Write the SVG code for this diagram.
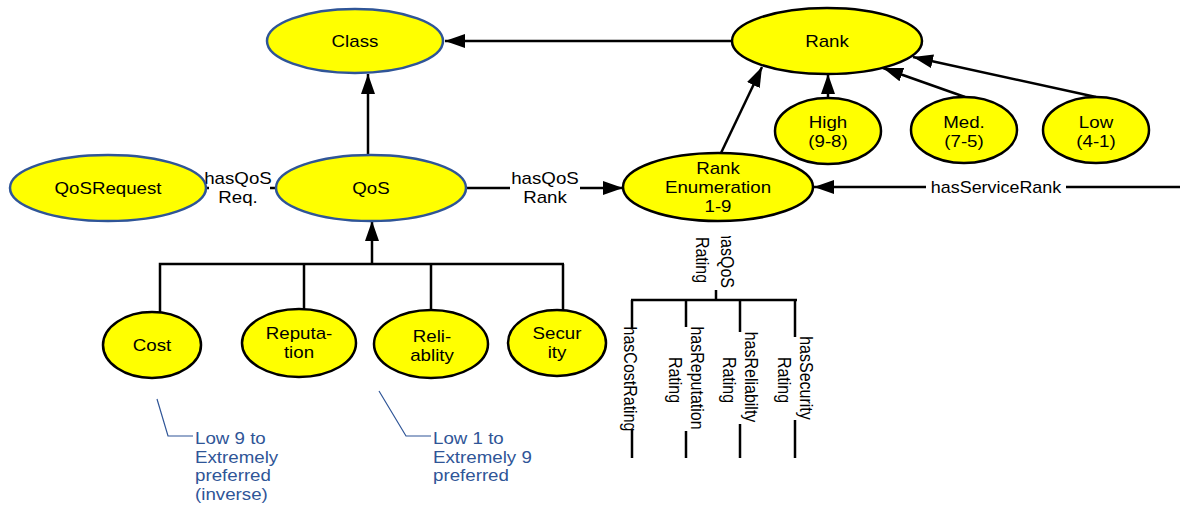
<svg xmlns="http://www.w3.org/2000/svg" width="1192" height="506" viewBox="0 0 1192 506">
<defs>
<style>
.t{font-family:"Liberation Sans",Arial,sans-serif;font-size:16px;fill:#000;text-anchor:middle}
.a{font-family:"Liberation Sans",Arial,sans-serif;font-size:16px;fill:#2F5597}
.nb{fill:#FFFF00;stroke:#2F5597;stroke-width:2.5}
.nk{fill:#FFFF00;stroke:#000;stroke-width:2.5}
.e{stroke:#000;stroke-width:2.5;fill:none}
.ea{stroke:#000;stroke-width:2.5;fill:none;marker-end:url(#arr)}
.an{stroke:#2F5597;stroke-width:1.2;fill:none}
</style>
<marker id="arr" markerUnits="userSpaceOnUse" markerWidth="20" markerHeight="14" refX="20" refY="7" orient="auto">
<path d="M0,0 L20,7 L0,14 z" fill="#000"/>
</marker>
<clipPath id="clipTop"><rect x="600" y="236" width="200" height="80"/></clipPath>
</defs>

<g id="connectors">
<line class="ea" x1="732" y1="41" x2="445" y2="41"/>
<line class="ea" x1="368" y1="155" x2="368" y2="74"/>
<line class="e" x1="206" y1="188" x2="209" y2="188"/>
<line class="e" x1="270" y1="188" x2="276" y2="188"/>
<line class="e" x1="467" y1="188" x2="510" y2="188"/>
<line class="ea" x1="580" y1="188" x2="623" y2="188"/>
<line class="ea" x1="721" y1="153" x2="762" y2="67"/>
<line class="ea" x1="828" y1="98" x2="828" y2="74"/>
<line class="ea" x1="965" y1="97" x2="883" y2="68"/>
<line class="ea" x1="1096" y1="97" x2="913" y2="57"/>
<line class="ea" x1="926" y1="187" x2="814" y2="187"/>
<line class="e" x1="1066" y1="187" x2="1180" y2="187"/>
<line class="ea" x1="372" y1="264" x2="372" y2="221"/>
<polyline class="e" points="160,312 160,264 564,264"/>
<line class="e" x1="304" y1="264" x2="304" y2="309"/>
<line class="e" x1="431" y1="264" x2="431" y2="310"/>
<line class="e" x1="563" y1="264" x2="563" y2="310"/>
<line class="e" x1="716" y1="290" x2="716" y2="300"/>
<line class="e" x1="631" y1="300" x2="797" y2="300"/>
<line class="e" x1="632" y1="300" x2="632" y2="328"/>
<line class="e" x1="632" y1="430" x2="632" y2="458"/>
<line class="e" x1="686" y1="300" x2="686" y2="327"/>
<line class="e" x1="686" y1="431" x2="686" y2="458"/>
<line class="e" x1="740" y1="300" x2="740" y2="332"/>
<line class="e" x1="740" y1="424" x2="740" y2="458"/>
<line class="e" x1="795" y1="300" x2="795" y2="337"/>
<line class="e" x1="795" y1="420" x2="795" y2="458"/>
<text class="t" transform="translate(238,184) scale(1.17,1)">hasQoS<tspan x="0" dy="19">Req.</tspan></text>
<text class="t" transform="translate(545,184) scale(1.17,1)">hasQoS<tspan x="0" dy="19">Rank</tspan></text>
<text class="t" transform="translate(996,193) scale(1.12,1)">hasServiceRank</text>
<g clip-path="url(#clipTop)">
<text class="t" style="text-anchor:end" transform="translate(721,288) rotate(90) scale(1,1.17)">hasQoS</text>
<text class="t" transform="translate(696,260) rotate(90) scale(1,1.17)">Rating</text>
</g>
<text class="t" transform="translate(624,379) rotate(90) scale(1,1.17)">hasCostRating</text>
<text class="t" transform="translate(691,378) rotate(90) scale(1,1.17)">hasReputation</text>
<text class="t" transform="translate(669,380) rotate(90) scale(1,1.17)">Rating</text>
<text class="t" transform="translate(745,377) rotate(90) scale(1,1.17)">hasReliabilty</text>
<text class="t" transform="translate(723,380) rotate(90) scale(1,1.17)">Rating</text>
<text class="t" transform="translate(800,378) rotate(90) scale(1,1.17)">hasSecurity</text>
<text class="t" transform="translate(778,380) rotate(90) scale(1,1.17)">Rating</text>
</g>

<g id="node-class">
<ellipse class="nb" cx="355" cy="41" rx="88" ry="32"/>
<text class="t" transform="translate(355,47) scale(1.17,1)">Class</text>
</g>
<g id="node-rank">
<ellipse class="nk" cx="827" cy="41" rx="95" ry="33"/>
<text class="t" transform="translate(827,47) scale(1.17,1)">Rank</text>
</g>
<g id="node-qosrequest">
<ellipse class="nb" cx="108" cy="188" rx="98" ry="33"/>
<text class="t" transform="translate(108,194) scale(1.17,1)">QoSRequest</text>
</g>
<g id="node-qos">
<ellipse class="nb" cx="371" cy="188" rx="95" ry="33"/>
<text class="t" transform="translate(371,194) scale(1.17,1)">QoS</text>
</g>
<g id="node-rankenum">
<ellipse class="nk" cx="718" cy="187" rx="95" ry="34"/>
<text class="t" transform="translate(718,174) scale(1.17,1)">Rank<tspan x="0" dy="19">Enumeration</tspan><tspan x="0" dy="19">1-9</tspan></text>
</g>
<g id="node-high">
<ellipse class="nk" cx="828" cy="131" rx="53" ry="33"/>
<text class="t" transform="translate(828,128) scale(1.17,1)">High<tspan x="0" dy="19">(9-8)</tspan></text>
</g>
<g id="node-med">
<ellipse class="nk" cx="964" cy="130" rx="53" ry="33"/>
<text class="t" transform="translate(964,128) scale(1.17,1)">Med.<tspan x="0" dy="19">(7-5)</tspan></text>
</g>
<g id="node-low">
<ellipse class="nk" cx="1096" cy="130" rx="53" ry="33"/>
<text class="t" transform="translate(1096,128) scale(1.17,1)">Low<tspan x="0" dy="19">(4-1)</tspan></text>
</g>
<g id="node-cost">
<ellipse class="nk" cx="152" cy="345" rx="49" ry="33"/>
<text class="t" transform="translate(152,351) scale(1.17,1)">Cost</text>
</g>
<g id="node-reputation">
<ellipse class="nk" cx="299" cy="343" rx="57" ry="34"/>
<text class="t" transform="translate(299,339) scale(1.17,1)">Reputa-<tspan x="0" dy="19">tion</tspan></text>
</g>
<g id="node-reliability">
<ellipse class="nk" cx="431" cy="344" rx="57" ry="34"/>
<text class="t" transform="translate(432,342) scale(1.17,1)">Reli-<tspan x="0" dy="19">ablity</tspan></text>
</g>
<g id="node-security">
<ellipse class="nk" cx="557" cy="343" rx="49" ry="33"/>
<text class="t" transform="translate(557,339) scale(1.17,1)">Secur<tspan x="0" dy="19">ity</tspan></text>
</g>

<g id="note-cost">
<polyline class="an" points="157,399 168,436 193,436"/>
<text class="a" transform="translate(195,444) scale(1.17,1)">Low 9 to<tspan x="0" dy="19">Extremely</tspan><tspan x="0" dy="18.5">preferred</tspan><tspan x="0" dy="18.5">(inverse)</tspan></text>
</g>
<g id="note-reliability">
<polyline class="an" points="379,391 406,436 431,436"/>
<text class="a" transform="translate(433,444) scale(1.17,1)">Low 1 to<tspan x="0" dy="19">Extremely 9</tspan><tspan x="0" dy="18.5">preferred</tspan></text>
</g>
</svg>
